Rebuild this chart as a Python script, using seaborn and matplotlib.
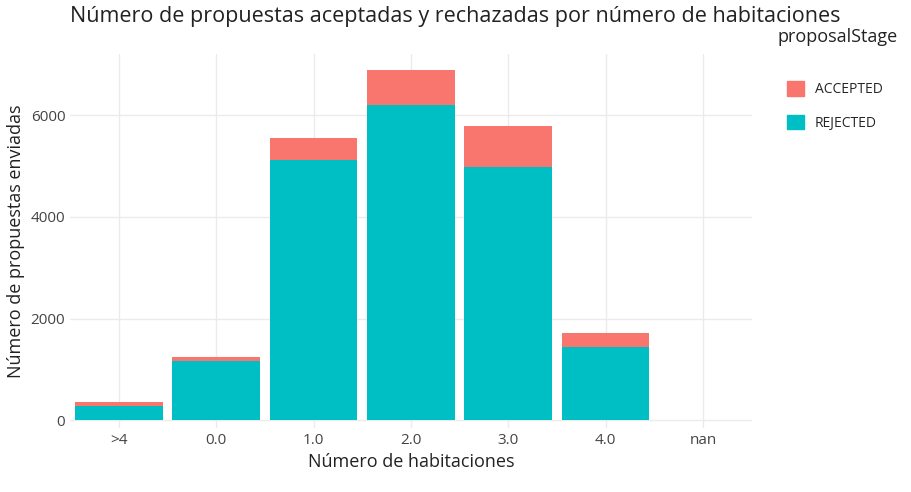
import matplotlib
matplotlib.use("Agg")
import matplotlib.pyplot as plt
import seaborn as sns
import pandas as pd
from matplotlib.patches import Patch

categories = [">4", "0.0", "1.0", "2.0", "3.0", "4.0", "nan"]
rejected = [290, 1160, 5115, 6195, 4985, 1450, 8]
accepted = [75, 90, 445, 695, 805, 270, 4]

df = pd.DataFrame({"cat": categories, "REJECTED": rejected, "ACCEPTED": accepted})
df["total"] = df["REJECTED"] + df["ACCEPTED"]

sns.set_theme(style="whitegrid")
plt.rcParams['font.family'] = ['Open Sans', 'DejaVu Sans']
fig = plt.figure(figsize=(9.11, 4.92), dpi=100)
ax = fig.add_axes([0.077, 0.13, 0.748, 0.76])

c_acc = "#F8766D"; c_rej = "#00BFC4"
sns.barplot(data=df, x="cat", y="total", color=c_acc, width=0.9, ax=ax, saturation=1, linewidth=0)
sns.barplot(data=df, x="cat", y="REJECTED", color=c_rej, width=0.9, ax=ax, saturation=1, linewidth=0)

ax.set_ylim(-150, 7200)
ax.set_xlim(-0.5, 6.5)
ax.set_yticks([0, 2000, 4000, 6000])
ax.grid(True, color="#ebebeb", linewidth=1)
for s in ax.spines.values():
    s.set_visible(False)
ax.tick_params(colors="#444444", labelsize=11, length=0)
ax.set_xlabel("Número de habitaciones", fontsize=13, color="#222222")
ax.set_ylabel("Número de propuestas enviadas", fontsize=13, color="#222222")
fig.text(0.5, 0.955, "Número de propuestas aceptadas y rechazadas por número de habitaciones",
         ha="center", fontsize=15.5, color="#222222")
fig.text(0.985, 0.915, "proposalStage", ha="right", fontsize=13, color="#222222")
handles = [Patch(color=c_acc, label="ACCEPTED"), Patch(color=c_rej, label="REJECTED")]
fig.legend(handles=handles, loc="upper left", bbox_to_anchor=(0.85, 0.86), frameon=False,
           fontsize=10, handlelength=1.2, handleheight=1.2, labelspacing=1.3)
fig.savefig("out.png", dpi=100)
